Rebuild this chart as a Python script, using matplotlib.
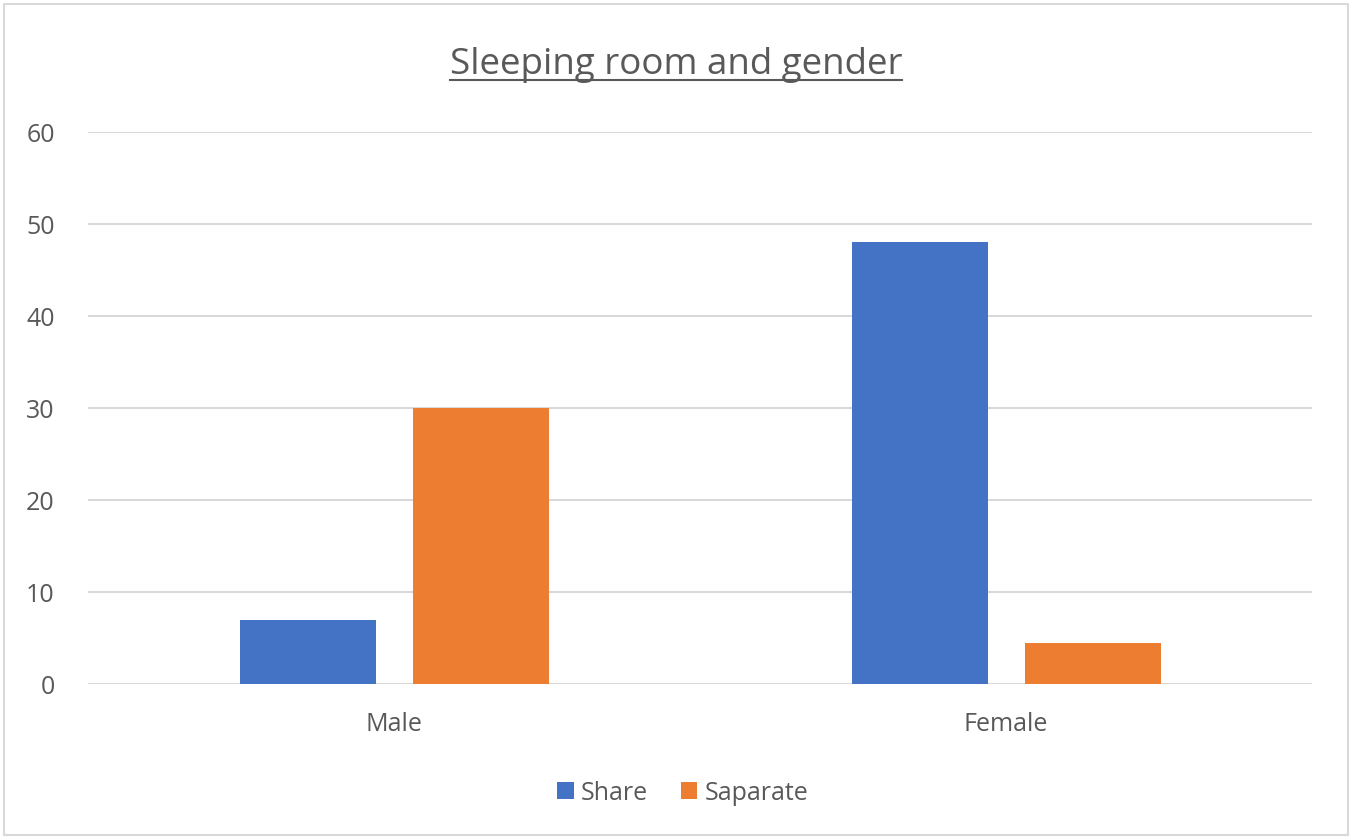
import matplotlib
matplotlib.use("Agg")
import matplotlib.pyplot as plt
from matplotlib.lines import Line2D
from matplotlib.patches import Rectangle
import numpy as np

plt.rcParams['font.family'] = ['Open Sans', 'DejaVu Sans']

genders = ["Male", "Female"]
share = [7, 48]
separate = [30, 4.5]
series_names = ["Share", "Saparate"]
yticks = [0, 10, 20, 30, 40, 50, 60]

blue = "#4472C4"
orange = "#ED7D31"
text_col = "#595959"
grid_col = "#D9D9D9"

fig = plt.figure(figsize=(13.52, 8.39), dpi=100)
ax = fig.add_axes([88/1352, 1 - 684/839, (1312-88)/1352, (684-132)/839])

x = np.arange(len(genders))
w = 0.222
ax.bar(x - 0.141, share, w, color=blue, label=series_names[0], zorder=3)
ax.bar(x + 0.142, separate, w, color=orange, label=series_names[1], zorder=3)

ax.set_xlim(-0.5, 1.5)
ax.set_ylim(0, 60)
ax.set_yticks(yticks)
ax.set_xticks(x)
ax.set_xticklabels(genders)
ax.grid(axis='y', color=grid_col, linewidth=1.5, zorder=0)
for s in ax.spines.values():
    s.set_visible(False)
ax.tick_params(length=0, labelsize=18, colors=text_col)
ax.tick_params(axis='x', pad=20)
ax.tick_params(axis='y', pad=24)

title = fig.text(0.5, 1 - 65/839, "Sleeping room and gender", ha='center', va='center',
                 fontsize=26.5, color=text_col)

leg = fig.legend(loc='center', bbox_to_anchor=(0.505, 1 - 793/839), ncol=2, frameon=False,
                 fontsize=18, handlelength=0.65, handleheight=0.65, handletextpad=0.3,
                 columnspacing=1.3, labelcolor=text_col)

# underline the title
fig.canvas.draw()
bb = title.get_window_extent().transformed(fig.transFigure.inverted())
fig.add_artist(Line2D([bb.x0, bb.x1], [bb.y0 + 0.003, bb.y0 + 0.003], transform=fig.transFigure,
                      color=text_col, linewidth=1.5))

# chart frame
fig.add_artist(Rectangle((4/1352, 4/839), 1 - 8/1352, 1 - 8/839, transform=fig.transFigure,
                         fill=False, edgecolor="#D9D9D9", linewidth=1.5))

fig.savefig("out.png", dpi=100)
